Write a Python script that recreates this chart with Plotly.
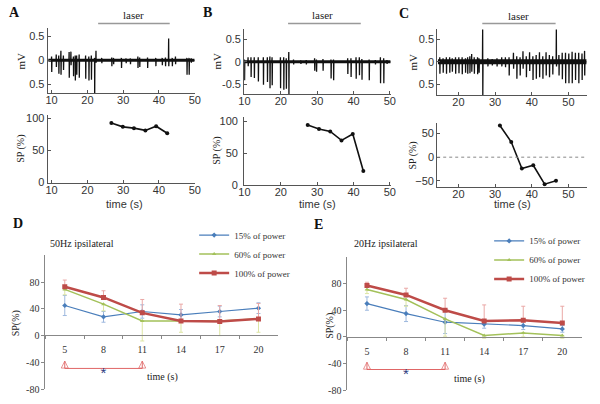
import plotly.graph_objects as go

W, H = 600, 404
def px(x): return x / W
def py(y): return 1 - y / H

# ---------------- data: panels A-C (spike trains, mV) ----------------
A_spk_t = [10.0, 11.3, 12.0, 12.6, 13.3, 14.9, 15.4, 16.1, 16.6, 17.0, 17.7, 19.5, 20.4, 21.1, 22.0,
           22.4, 24.0, 26.8, 27.3, 29.5, 30.8, 32.0, 34.1, 34.6, 36.8, 39.1, 40.9, 41.8, 42.7, 43.7,
           44.6, 47.8, 48.4, 49.0]
A_spk_up = [0.08, 0.12, 0.1, 0.2, 0.1, 0.17, 0.18, 0.08, 0.1, 0.1, 0.12, 0.1, 0.08, 0.1, 0.05,
            0.2, 0.05, 0.06, 0.05, 0.05, 0.04, 0.04, 0.08, 0.06, 0.06, 0.05, 0.05, 0.06, 0.45, 0.05,
            0.08, 0.05, 0.05, 0.04]
A_spk_dn = [-0.24, -0.14, -0.28, -0.3, -0.2, -0.36, -0.1, -0.33, -0.42, -0.3, -0.36, -0.38, -0.42, -0.4, -0.72,
            -0.05, -0.06, -0.12, -0.08, -0.16, -0.06, -0.08, -0.16, -0.14, -0.16, -0.12, -0.1, -0.12, -0.12, -0.12,
            -0.08, -0.3, -0.3, -0.05]

B_spk_t = [10.0, 11.0, 11.8, 12.7, 13.8, 15.2, 16.3, 17.0, 17.6, 19.9, 20.8, 21.5, 22.2, 23.5, 25.5,
           27.0, 29.3, 29.8, 31.6, 33.8, 34.5, 38.4, 39.3, 40.7, 41.6, 42.3, 44.3, 46.0, 47.4, 48.3, 49.2]
B_spk_up = [0.05, 0.1, 0.1, 0.1, 0.1, 0.1, 0.1, 0.12, 0.1, 0.1, 0.1, 0.08, 0.22, 0.05, 0.03,
            0.04, 0.08, 0.05, 0.06, 0.05, 0.05, 0.08, 0.08, 0.1, 0.1, 0.06, 0.05, 0.04, 0.1, 0.08, 0.04]
B_spk_dn = [-0.41, -0.1, -0.34, -0.36, -0.44, -0.51, -0.45, -0.59, -0.52, -0.59, -0.62, -0.6, -0.73, -0.06, -0.05,
            -0.06, -0.2, -0.22, -0.2, -0.37, -0.41, -0.27, -0.34, -0.38, -0.3, -0.4, -0.41, -0.06, -0.48, -0.48, -0.05]

C_spk_t = [14.9, 15.8, 16.7, 17.6, 18.3, 19.2, 20.1, 21.0, 21.9, 22.5, 23.1, 23.6, 24.3, 25.2, 25.6,
           26.6, 28.0, 29.2, 30.5, 31.8, 32.8, 33.8, 35.0, 35.9, 36.8, 37.6, 38.5, 39.4, 40.3, 41.2,
           42.1, 43.0, 43.9, 44.8, 45.7, 46.7, 47.4, 48.3, 49.2, 50.1, 51.0, 51.9, 52.8, 53.7, 54.4]
C_spk_up = [0.1, 0.08, 0.1, 0.1, 0.08, 0.1, 0.1, 0.1, 0.08, 0.1, 0.12, 0.17, 0.1, 0.1, 0.08,
            0.72, 0.08, 0.06, 0.08, 0.1, 0.1, 0.1, 0.2, 0.12, 0.1, 0.23, 0.12, 0.21, 0.12, 0.15,
            0.21, 0.12, 0.21, 0.15, 0.12, 0.72, 0.15, 0.2, 0.2, 0.18, 0.22, 0.2, 0.2, 0.18, 0.24]
C_spk_dn = [-0.26, -0.24, -0.26, -0.24, -0.22, -0.26, -0.25, -0.27, -0.24, -0.26, -0.25, -0.22, -0.26, -0.27, -0.24,
            -0.75, -0.1, -0.08, -0.1, -0.1, -0.12, -0.3, -0.15, -0.37, -0.3, -0.15, -0.34, -0.2, -0.4, -0.37,
            -0.34, -0.37, -0.3, -0.34, -0.28, -0.1, -0.3, -0.38, -0.47, -0.47, -0.47, -0.4, -0.47, -0.4, -0.3]

# laser periods (s)
A_laser = [23, 43]
B_laser = [22, 42]
C_laser = [26.5, 46.5]

# SP (%) time courses
A_sp_t = [26.7, 29.9, 33.0, 36.2, 39.2, 42.3]
A_sp = [93, 87, 85, 81.5, 88, 77]
B_sp_t = [27.4, 30.5, 33.6, 36.7, 39.8, 42.7]
B_sp = [94, 88, 84, 70, 80, 22]
C_sp_t = [31.3, 34.4, 37.3, 40.4, 43.5, 46.6]
C_sp = [67, 32, -24, -17, -57, -50]

# ---------------- data: panels D-E ----------------
times = ["5", "8", "11", "14", "17", "20"]
legend_names = ["15% of power", "60% of power", "100% of power"]

D_blue = [45, 28, 36, 31, 36, 41]
D_blue_err = [15, 8, 10, 8, 8, 8]
D_green = [69, 47, 22, 22, 22, 25]
D_green_err = [8, 10, 30, 17, 22, 20]
D_red = [73, 57, 34, 22, 21, 25]
D_red_err = [10, 10, 20, 25, 24, 23]

E_blue = [50, 35, 22, 19, 17, 12]
E_blue_err = [10, 12, 17, 6, 6, 5]
E_green = [71, 56, 27, 2, 6, 2]
E_green_err = [6, 10, 26, 4, 6, 4]
E_red = [77, 63, 40, 24, 25, 21]
E_red_err = [5, 10, 18, 24, 21, 25]

bracket_x = ["5", "5", "11", "11"]
bracket_y = [-38, -49, -49, -38]
star_x = ["8"]
star_y = [-58]

# ---------------- figure ----------------
fig = go.Figure()

def spike_xy(t, up, dn, x0, x1):
    xs, ys = [x0], [0]
    for ti, u, d in zip(t, up, dn):
        xs += [ti - 0.06, ti, ti + 0.04, ti + 0.1]
        ys += [0, u, d, 0]
    xs.append(x1); ys.append(0)
    return xs, ys

panels = [
    ("x", "y", "x2", "y2", A_spk_t, A_spk_up, A_spk_dn, (8.9, 50.1), A_sp_t, A_sp, 3),
    ("x3", "y3", "x4", "y4", B_spk_t, B_spk_up, B_spk_dn, (9.92, 50.35), B_sp_t, B_sp, 3),
    ("x5", "y5", "x6", "y6", C_spk_t, C_spk_up, C_spk_dn, (14.2, 55.1), C_sp_t, C_sp, 5),
]
for xa, ya, xb, yb, t, up, dn, xr, spt, sp, bw in panels:
    xs, ys = spike_xy(t, up, dn, xr[0] + 0.2, xr[1] - 0.2)
    fig.add_trace(go.Scatter(x=[xr[0] + 0.2, xr[1] - 0.2], y=[0, 0], mode="lines",
                             line=dict(color="#111", width=bw), xaxis=xa, yaxis=ya, showlegend=False))
    fig.add_trace(go.Scatter(x=xs, y=ys, mode="lines", line=dict(color="#111", width=1.3),
                             xaxis=xa, yaxis=ya, showlegend=False))
    fig.add_trace(go.Scatter(x=spt, y=sp, mode="lines+markers", line=dict(color="#111", width=1.6),
                             marker=dict(size=4, color="#111"), xaxis=xb, yaxis=yb, showlegend=False))

BLUE, GREEN, RED = "#4a7ebb", "#a3c15a", "#be4b48"
BLUE_E, GREEN_E, RED_E = "#9db8de", "#dde5a3", "#eaa8a6"

def add_group(xa, ya, blue, berr, green, gerr, red, rerr, leg):
    fig.add_trace(go.Scatter(x=times, y=blue, name=legend_names[0], mode="lines+markers",
                             line=dict(color=BLUE, width=1.2), marker=dict(symbol="diamond", size=4, color=BLUE),
                             error_y=dict(type="data", array=berr, color=BLUE_E, thickness=1, width=2),
                             xaxis=xa, yaxis=ya, legend=leg))
    fig.add_trace(go.Scatter(x=times, y=green, name=legend_names[1], mode="lines+markers",
                             line=dict(color=GREEN, width=1.5), marker=dict(symbol="triangle-up", size=4, color=GREEN),
                             error_y=dict(type="data", symmetric=False, array=[0] * len(gerr), arrayminus=gerr,
                                          color=GREEN_E, thickness=1, width=2),
                             xaxis=xa, yaxis=ya, legend=leg))
    fig.add_trace(go.Scatter(x=times, y=red, name=legend_names[2], mode="lines+markers",
                             line=dict(color=RED, width=2.5), marker=dict(symbol="square", size=5, color=RED),
                             error_y=dict(type="data", symmetric=False, array=rerr, arrayminus=[0] * len(rerr),
                                          color=RED_E, thickness=1, width=2),
                             xaxis=xa, yaxis=ya, legend=leg))
    fig.add_trace(go.Scatter(x=bracket_x, y=bracket_y, mode="lines+markers",
                             line=dict(color="#e06666", width=1),
                             marker=dict(symbol=["arrow-up-open", "line-ew", "line-ew", "arrow-up-open"],
                                         size=[7, 0, 0, 7], color="#e06666", line=dict(width=1, color="#e06666")),
                             xaxis=xa, yaxis=ya, showlegend=False))
    fig.add_trace(go.Scatter(x=star_x, y=star_y, mode="text", text=["*"],
                             textfont=dict(size=15, color="#2e3b80", family="Liberation Sans"),
                             xaxis=xa, yaxis=ya, showlegend=False))

add_group("x7", "y7", D_blue, D_blue_err, D_green, D_green_err, D_red, D_red_err, "legend")
add_group("x8", "y8", E_blue, E_blue_err, E_green, E_green_err, E_red, E_red_err, "legend2")

# ---------------- axes ----------------
sans = dict(family="Liberation Sans", size=11, color="#333")
serif9 = dict(family="Liberation Serif", size=9, color="#333")

def ax(**kw):
    d = dict(showline=True, linecolor="#555", linewidth=1, ticks="inside", ticklen=3, tickcolor="#555",
             showgrid=False, zeroline=False, tickfont=sans, fixedrange=True)
    d.update(kw)
    return d

XT = dict(ticklabelstandoff=-3)
lay = {}
# A
lay["xaxis"] = ax(domain=[px(42.5), px(193)], range=[8.9, 50.1], tickvals=[10, 20, 30, 40, 50], anchor="y", **XT)
lay["yaxis"] = ax(domain=[py(93), py(27)], range=[-0.68, 0.66], tickvals=[-0.5, 0, 0.5],
                  ticktext=["0.5", "0", "0.5"], anchor="x")
lay["xaxis2"] = ax(domain=[px(42.5), px(193)], range=[8.9, 50.1], tickvals=[10, 20, 30, 40, 50], anchor="y2", **XT)
lay["yaxis2"] = ax(domain=[py(184.5), py(115)], range=[-0.5, 106], tickvals=[0, 50, 100], anchor="x2")
# B
lay["xaxis3"] = ax(domain=[px(243), px(393)], range=[9.92, 50.35], tickvals=[10, 20, 30, 40, 50], anchor="y3", **XT)
lay["yaxis3"] = ax(domain=[py(94), py(28)], range=[-0.72, 0.72], tickvals=[-0.5, 0, 0.5],
                   ticktext=["-0.5", "0", "0.5"], anchor="x3")
lay["xaxis4"] = ax(domain=[px(243), px(393)], range=[9.92, 50.35], tickvals=[10, 20, 30, 40, 50], anchor="y4", **XT)
lay["yaxis4"] = ax(domain=[py(187), py(117)], range=[-0.5, 107.2], tickvals=[0, 50, 100], anchor="x4",
                   ticklabelstandoff=3)
# C
lay["xaxis5"] = ax(domain=[px(440), px(593)], range=[14.2, 55.1], tickvals=[20, 30, 40, 50], anchor="y5", **XT)
lay["yaxis5"] = ax(domain=[py(95), py(28)], range=[-0.73, 0.71], tickvals=[-0.5, 0, 0.5],
                   ticktext=["0.5", "0", "0.5"], anchor="x5")
lay["xaxis6"] = ax(domain=[px(440), px(593)], range=[14.2, 55.1], tickvals=[20, 30, 40, 50], anchor="y6", **XT)
lay["yaxis6"] = ax(domain=[py(188.5), py(123)], range=[-62.5, 73.1], tickvals=[-50, 0, 50], anchor="x6")
# D
dx = dict(showline=True, linecolor="#888", linewidth=1, ticks="outside", ticklen=3, tickcolor="#888",
          showgrid=False, zeroline=False, tickfont=dict(family="Liberation Serif", size=10, color="#333"),
          type="category", tickson="boundaries", range=[-0.5, 5.5], fixedrange=True, ticklabelstandoff=5)
dy = dict(showline=True, linecolor="#888", linewidth=1, ticks="outside", ticklen=3, tickcolor="#888",
          showgrid=False, zeroline=False, tickfont=dict(family="Liberation Serif", size=10, color="#333"),
          range=[-80, 120], tickvals=[-80, -40, 0, 40, 80], ticktext=["-80", "-40", "0", "40", "80"],
          fixedrange=True)
lay["xaxis7"] = dict(dx, domain=[px(40.2), px(277.4)], anchor="free", position=py(340))
lay["yaxis7"] = dict(dy, domain=[py(395), py(258.4)], anchor="x7")
lay["xaxis8"] = dict(dx, domain=[px(348.4), px(587.6)], anchor="free", position=py(341.7))
lay["yaxis8"] = dict(dy, domain=[py(396), py(260.1)], anchor="x8")

fig.update_layout(**lay)

# laser bars
shapes = []
for xa, (l0, l1) in [("x", A_laser), ("x3", B_laser), ("x5", C_laser)]:
    shapes.append(dict(type="line", xref=xa, yref="paper", x0=l0, x1=l1, y0=py(22), y1=py(22),
                       line=dict(color="#999", width=1.5)))
shapes.append(dict(type="line", xref="x6 domain", yref="y6", x0=0, x1=1, y0=0, y1=0,
                   line=dict(color="#888", width=1, dash="dot")))

def ann(text, x, y, font, angle=0, **kw):
    d = dict(text=text, x=px(x), y=py(y), xref="paper", yref="paper", showarrow=False,
             xanchor="center", yanchor="middle", font=font, textangle=angle)
    d.update(kw)
    return d

bold = dict(family="Liberation Serif", size=14, color="#111")
serif11 = dict(family="Liberation Serif", size=11, color="#222")
serif10 = dict(family="Liberation Serif", size=10, color="#222")
annots = [
    ann("<b>A</b>", 9, 11, bold), ann("<b>B</b>", 206, 11, bold), ann("<b>C</b>", 406, 12, bold),
    ann("<b>D</b>", 12, 226, bold), ann("<b>E</b>", 319, 227, bold),
    ann("laser", 130, 13, serif11), ann("laser", 323, 13, serif11), ann("laser", 523, 14, serif11),
    ann("mV", 15, 60, serif11, -90), ann("mV", 215, 60, serif11, -90), ann("mV", 415, 61, serif11, -90),
    ann("SP (%)", 15, 150, serif10, -90), ann("SP (%)", 215, 152, serif10, -90), ann("SP (%)", 415, 157, serif10, -90),
    ann("time (s)", 121, 206, sans), ann("time (s)", 318, 206, sans), ann("time (s)", 517, 206, sans),
    ann("50Hz ipsilateral", 78, 246, serif10), ann("20Hz ipsilateral", 388, 246, serif10),
    ann("time (s)", 160, 383, serif10), ann("time (s)", 473, 385, serif10),
    ann("SP(%)", 10, 328, serif10, -90), ann("SP(%)", 331, 330, serif10, -90),
]

fig.update_layout(
    width=W, height=H, margin=dict(l=0, r=0, t=0, b=0),
    paper_bgcolor="white", plot_bgcolor="white",
    shapes=shapes, annotations=annots,
    legend=dict(x=px(192), y=py(223), xanchor="left", yanchor="top", font=serif9,
                bgcolor="rgba(0,0,0,0)", itemwidth=30),
    legend2=dict(x=px(493), y=py(229), xanchor="left", yanchor="top", font=serif9,
                 bgcolor="rgba(0,0,0,0)", itemwidth=30),
)

fig.write_html("out.html", config={"displayModeBar": False},
               post_script="document.body.style.margin='0px';")
